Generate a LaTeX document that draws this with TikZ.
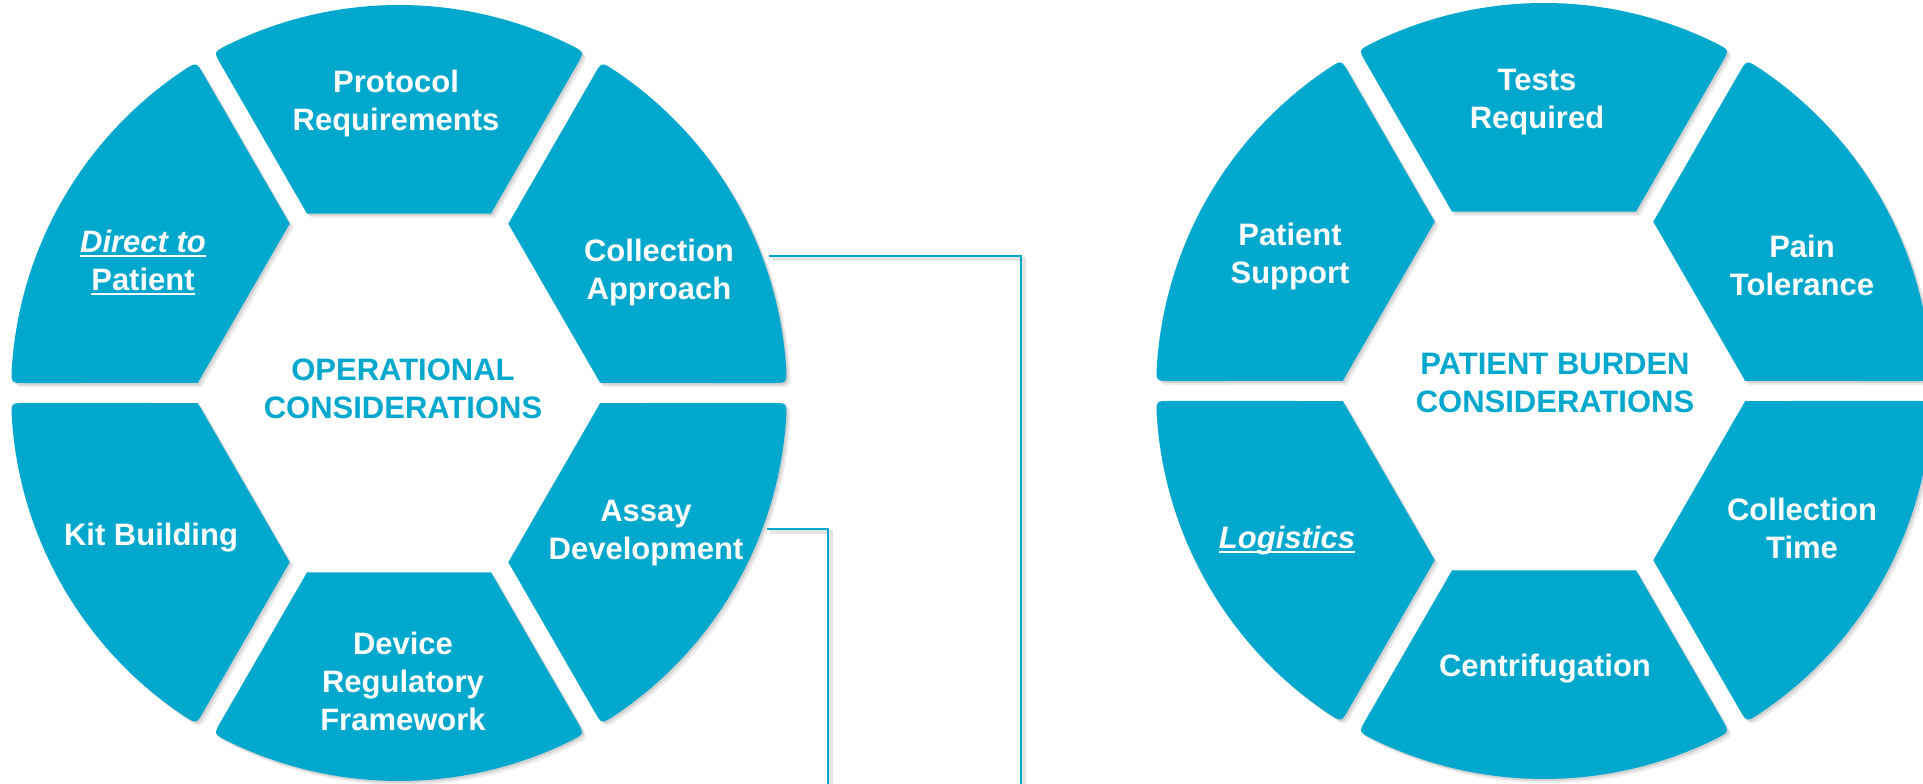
\documentclass[tikz,border=0pt]{standalone}
\usepackage{fontspec}
\setmainfont{Liberation Sans}
\definecolor{tealA}{RGB}{0,168,206}
\newcommand{\ftop}{\rule{0pt}{23pt}}
\newcommand{\fbot}{\rule[-7pt]{0pt}{7pt}}
\newcommand{\myul}[1]{\setbox0\hbox{#1}\rlap{\rule[-4pt]{\wd0}{2.2pt}}\box0}
% one segment: #1 x, #2 y of ring centre (pt), #3 centre angle, #4 style
\newcommand{\mysegment}[4]{%
  \path[#4, shift={(#1pt,#2pt)}]
    ({#3-27.15}:201.48pt) -- ({#3-28.47}:374pt)
    .. controls ({#3-28.52}:388pt) .. ({#3-26.46}:388pt)
    arc[start angle={#3-26.46}, end angle={#3+26.46}, radius=388pt]
    .. controls ({#3+28.52}:388pt) .. ({#3+28.47}:374pt)
    -- ({#3+27.15}:201.48pt) -- cycle;}
\newcommand{\myring}[3]{%
  \mysegment{#1}{#2}{90}{#3}\mysegment{#1}{#2}{30}{#3}%
  \mysegment{#1}{#2}{-30}{#3}\mysegment{#1}{#2}{-90}{#3}%
  \mysegment{#1}{#2}{-150}{#3}\mysegment{#1}{#2}{150}{#3}}
\tikzset{
  segfill/.style={fill=tealA},
  shadowA/.style={fill=black, opacity=0.10},
  shadowB/.style={fill=black, opacity=0.08},
  segtext/.style={text=white, font=\fontsize{31}{38}\selectfont\bfseries, align=center, inner sep=0pt},
  titletext/.style={text=tealA, font=\fontsize{31}{38}\selectfont\bfseries, align=center, inner sep=0pt},
  conn/.style={draw=tealA, line width=2.6pt},
  connshadow/.style={draw=black, opacity=0.10, line width=4pt},
}
\begin{document}
\begin{tikzpicture}
\useasboundingbox (0,0) rectangle (1923pt,784pt);
\clip (0,0) rectangle (1923pt,784pt);
% shadows
\myring{403}{387}{shadowB}
\myring{401}{389}{shadowA}
\myring{1548}{389}{shadowB}
\myring{1546}{391}{shadowA}
% rings
\myring{399}{391}{segfill}
\myring{1544}{393}{segfill}

% connector coordinates
\coordinate (c1a) at (769pt,528pt);
\coordinate (c1b) at (1021pt,528pt);
\coordinate (c1c) at (1021pt,-5pt);
\coordinate (c2a) at (767pt,255pt);
\coordinate (c2b) at (828pt,255pt);
\coordinate (c2c) at (828pt,-5pt);
\draw[connshadow, transform canvas={shift={(3pt,-3pt)}}] (c1a) -- (c1b) -- (c1c);
\draw[connshadow, transform canvas={shift={(3pt,-3pt)}}] (c2a) -- (c2b) -- (c2c);
\draw[conn] (c1a) -- (c1b) -- (c1c);
\draw[conn] (c2a) -- (c2b) -- (c2c);

% left ring texts
\node[segtext] (proto) at (396pt,680pt) {\ftop Protocol\\Requirements\fbot};
\node[segtext] (direct) at (143pt,520pt) {\itshape\ftop\myul{Direct to}\\\myul{Patient}\fbot};
\node[segtext] (kit) at (151pt,246pt) {\ftop Kit Building\fbot};
\node[segtext] (device) at (403pt,99pt) {\ftop Device\\Regulatory\\Framework\fbot};
\node[segtext] (collA) at (659pt,511pt) {\ftop Collection\\Approach\fbot};
\node[segtext] (assay) at (646pt,251pt) {\ftop Assay\\Development\fbot};
\node[titletext] (title1) at (403pt,392pt) {\ftop OPERATIONAL\\CONSIDERATIONS\fbot};

% right ring texts
\node[segtext] (tests) at (1537pt,682pt) {\ftop Tests\\Required\fbot};
\node[segtext] (psupport) at (1290pt,527.5pt) {\ftop Patient\\Support\fbot};
\node[segtext] (pain) at (1802pt,515pt) {\ftop Pain\\Tolerance\fbot};
\node[titletext] (title2) at (1555pt,398pt) {\ftop PATIENT BURDEN\\CONSIDERATIONS\fbot};
\node[segtext] (logistics) at (1287pt,243pt) {\itshape\ftop\myul{Logistics}\fbot};
\node[segtext] (ctime) at (1802pt,252.5pt) {\ftop Collection\\Time\fbot};
\node[segtext] (centri) at (1545pt,115.5pt) {\ftop Centrifugation\fbot};
\end{tikzpicture}
\end{document}
